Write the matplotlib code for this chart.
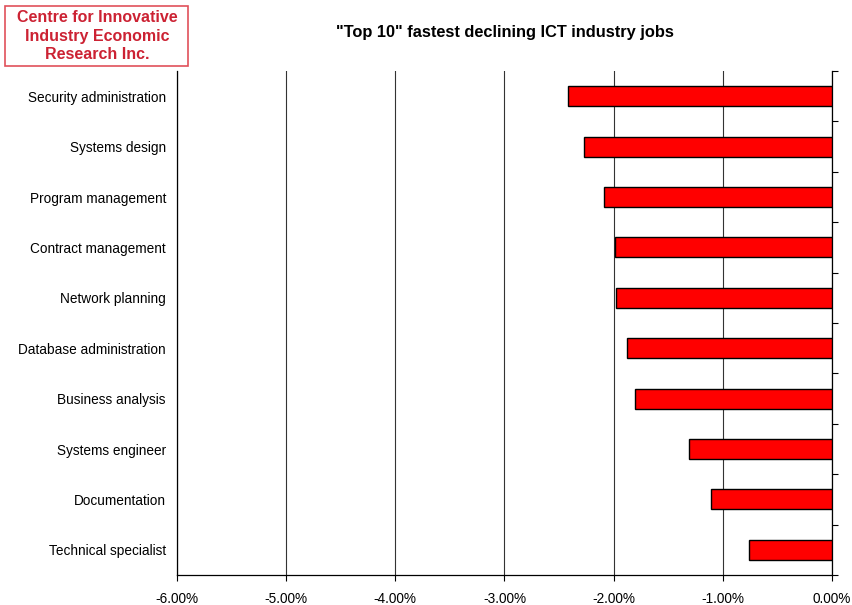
import matplotlib
matplotlib.use("Agg")
import matplotlib.pyplot as plt
from matplotlib.patches import Rectangle
from matplotlib.ticker import FuncFormatter
import numpy as np

plt.rcParams['font.family'] = ['Liberation Sans', 'DejaVu Sans']

jobs = [
    "Security administration",
    "Systems design",
    "Program management",
    "Contract management",
    "Network planning",
    "Database administration",
    "Business analysis",
    "Systems engineer",
    "Documentation",
    "Technical specialist",
]
change_pct = [-2.42, -2.27, -2.09, -1.985, -1.975, -1.88, -1.80, -1.31, -1.11, -0.76]
x_ticks = [-6, -5, -4, -3, -2, -1, 0]

fig = plt.figure(figsize=(8.53, 6.05), dpi=100)
ax = fig.add_axes([177 / 853, 30 / 605, 655 / 853, 504 / 605])

pos = np.arange(len(jobs))
ax.barh(pos, change_pct, height=0.4, color='#ff0000', edgecolor='black',
        linewidth=1.0, zorder=3)

ax.set_xlim(-6, 0)
ax.set_ylim(len(jobs) - 0.5, -0.5)
ax.set_xticks(x_ticks)
ax.xaxis.set_major_formatter(FuncFormatter(lambda v, _: f"{v:.2f}%"))
ax.tick_params(axis='x', direction='out', length=4, width=0.8, labelsize=9.8, pad=8)
ax.grid(axis='x', color='#333333', linewidth=0.8, zorder=0)

ax.set_yticks(pos)
ax.set_yticklabels(jobs, fontsize=9.8)
ax.tick_params(axis='y', length=0, pad=8)

ax.spines['top'].set_visible(False)
for side in ('left', 'bottom', 'right'):
    ax.spines[side].set_color('black')
    ax.spines[side].set_linewidth(0.9)

# category separators as outward ticks on the zero line
ax2 = ax.twinx()
ax2.set_ylim(ax.get_ylim())
ax2.set_yticks(np.arange(len(jobs) + 1) - 0.5)
ax2.set_yticklabels([])
ax2.tick_params(axis='y', direction='out', length=4, width=0.8)
for side in ('top', 'left', 'bottom', 'right'):
    ax2.spines[side].set_visible(False)

fig.text(505 / 853, 1 - 32 / 605, '"Top 10" fastest declining ICT industry jobs',
         ha='center', va='center', fontsize=11.8, fontweight='bold')

# organisation badge
fig.patches.append(Rectangle((5 / 853, 1 - 66 / 605), 183 / 853, 60 / 605,
                             transform=fig.transFigure, facecolor='white',
                             edgecolor='#e0505a', linewidth=1.2))
fig.text(97 / 853, 1 - 36 / 605,
         "Centre for Innovative\nIndustry Economic\nResearch Inc.",
         ha='center', va='center', fontsize=11.5, fontweight='bold',
         color='#cc2233', linespacing=1.3)

fig.savefig("out.png", dpi=100)
